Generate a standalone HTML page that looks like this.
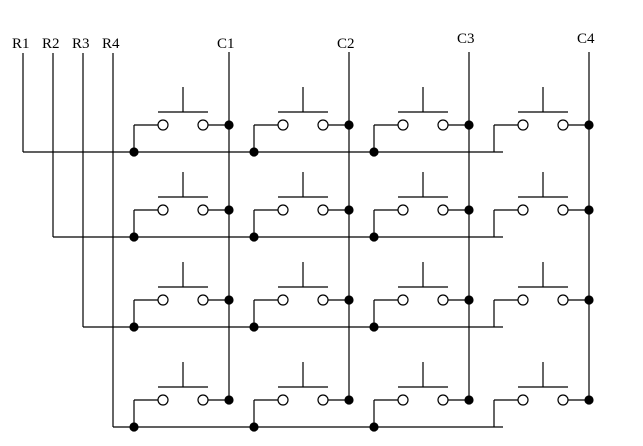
<!DOCTYPE html>
<html><head><meta charset="utf-8"><style>html,body{margin:0;padding:0;background:#fff}svg{display:block}</style></head>
<body>
<svg id="s" width="643" height="446" viewBox="0 0 643 446" xmlns="http://www.w3.org/2000/svg" font-family="Liberation Serif, serif" font-size="15">
<rect width="643" height="446" fill="#fff"/>
<text x="12" y="48">R1</text>
<text x="42" y="48">R2</text>
<text x="72" y="48">R3</text>
<text x="102" y="48">R4</text>
<text x="217" y="48">C1</text>
<text x="337" y="48">C2</text>
<text x="457" y="43">C3</text>
<text x="577" y="43">C4</text>
<g id="g" stroke="#000" stroke-width="1.2" fill="none"></g>
</svg>
<script>
var g=document.getElementById('g'),h='';
var sw=[125,210,300,400],rl=[152,237,327,427],rx=[23,53,83,113];
function L(a,b,c,d){h+='<line x1="'+a+'" y1="'+b+'" x2="'+c+'" y2="'+d+'"/>';}
function D(x,y){h+='<circle cx="'+x+'" cy="'+y+'" r="4" fill="#000"/>';}
function C(x,y){h+='<circle cx="'+x+'" cy="'+y+'" r="5" fill="#fff"/>';}
var ctop=[52,52,52,52];
for(var k=0;k<4;k++){L(229+120*k,ctop[k],229+120*k,400);}
for(var r=0;r<4;r++){
 var y=sw[r],ry=rl[r];
 L(rx[r],53,rx[r],ry);
 L(rx[r],ry,503,ry);
 for(var k=0;k<4;k++){
  var o=120*k,lx=134+o;
  L(lx,ry,lx,y);L(lx,y,158+o,y);
  L(208+o,y,229+o,y);
  L(158+o,y-13,208+o,y-13);L(183+o,y-38,183+o,y-13);
  C(163+o,y);C(203+o,y);D(229+o,y);
  if(k<3)D(lx,ry);
 }
}
g.innerHTML=h;
</script>
</body></html>
